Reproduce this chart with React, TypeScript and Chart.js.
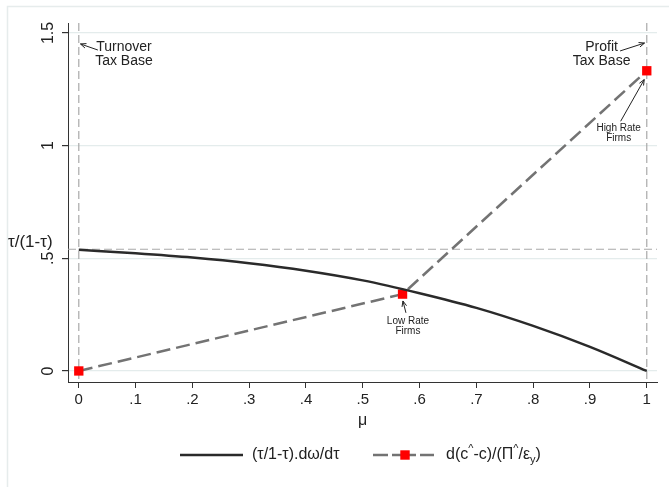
import React, { useEffect, useRef } from 'react';
import { Chart, registerables } from 'chart.js';

Chart.register(...registerables);

// ---- data ----
const muGrid = [0, 0.1, 0.2, 0.3, 0.4, 0.5, 0.6, 0.7, 0.8, 0.9, 1];
const curveValues = [0.538, 0.522, 0.503, 0.478, 0.445, 0.402, 0.345, 0.28, 0.2, 0.107, 0];
const firmMu = [0, 0.57, 1];
const firmValues = [0, 0.341, 1.332];
const xTickValues = [0, 0.1, 0.2, 0.3, 0.4, 0.5, 0.6, 0.7, 0.8, 0.9, 1];
const xTickLabels = ['0', '.1', '.2', '.3', '.4', '.5', '.6', '.7', '.8', '.9', '1'];
const yTickValues = [0, 0.5, 1, 1.5];
const yTickLabels = ['0', '.5', '1', '1.5'];
const refLineY = 0.54;
const refLinesX = [0, 1];
const xTitle = 'μ';
const yTitle = 'τ/(1-τ)';
const legend1 = '(τ/1-τ).dω/dτ';

const FONT = '"Liberation Sans", Arial, Helvetica, sans-serif';

type Ann = { lines: string[]; x: number; y: number; size: number; from: [number, number]; to: [number, number] };
const annotations: Ann[] = [
  { lines: ['Turnover', 'Tax Base'], x: 0.0795, y: 1.437, size: 14, from: [0.0336, 1.424], to: [0.003, 1.451] },
  { lines: ['Profit', 'Tax Base'], x: 0.9205, y: 1.437, size: 14, from: [0.953, 1.42], to: [0.996, 1.455] },
  { lines: ['High Rate', 'Firms'], x: 0.9505, y: 1.079, size: 10, from: [0.954, 1.108], to: [0.9955, 1.293] },
  { lines: ['Low Rate', 'Firms'], x: 0.5795, y: 0.2225, size: 10, from: [0.576, 0.258], to: [0.5707, 0.3105] },
];

function arrow(ctx: CanvasRenderingContext2D, x1: number, y1: number, x2: number, y2: number) {
  const ang = Math.atan2(y2 - y1, x2 - x1);
  const h = 6;
  ctx.beginPath();
  ctx.moveTo(x1, y1);
  ctx.lineTo(x2, y2);
  ctx.stroke();
  ctx.beginPath();
  ctx.moveTo(x2, y2);
  ctx.lineTo(x2 - h * Math.cos(ang - 0.4), y2 - h * Math.sin(ang - 0.4));
  ctx.moveTo(x2, y2);
  ctx.lineTo(x2 - h * Math.cos(ang + 0.4), y2 - h * Math.sin(ang + 0.4));
  ctx.stroke();
}

const decorPlugin = {
  id: 'decor',
  beforeDraw(chart: any) {
    const ctx = chart.ctx as CanvasRenderingContext2D;
    ctx.save();
    ctx.fillStyle = '#ffffff';
    ctx.fillRect(0, 0, chart.width, chart.height);
    ctx.strokeStyle = '#e6ecec';
    ctx.lineWidth = 1.5;
    ctx.beginPath();
    ctx.moveTo(7.5, chart.height);
    ctx.lineTo(7.5, 6.5);
    ctx.lineTo(chart.width, 6.5);
    ctx.stroke();
    ctx.restore();
  },
  beforeDatasetsDraw(chart: any) {
    const ctx = chart.ctx as CanvasRenderingContext2D;
    const { left, right, top, bottom } = chart.chartArea;
    const xs = chart.scales.x;
    const ys = chart.scales.y;
    ctx.save();
    ctx.strokeStyle = '#a9a9a9';
    ctx.lineWidth = 1.2;
    ctx.setLineDash([8, 4]);
    const yy = ys.getPixelForValue(refLineY);
    ctx.beginPath();
    ctx.moveTo(left, yy);
    ctx.lineTo(right, yy);
    ctx.stroke();
    refLinesX.forEach((v) => {
      const xx = xs.getPixelForValue(v);
      ctx.beginPath();
      ctx.moveTo(xx, top);
      ctx.lineTo(xx, bottom);
      ctx.stroke();
    });
    ctx.restore();
  },
  afterDraw(chart: any) {
    const ctx = chart.ctx as CanvasRenderingContext2D;
    const xs = chart.scales.x;
    const ys = chart.scales.y;
    const { left, right } = chart.chartArea;
    ctx.save();
    ctx.fillStyle = '#222';
    // y tick labels (rotated)
    ctx.font = `16px ${FONT}`;
    ctx.textAlign = 'center';
    ctx.textBaseline = 'alphabetic';
    yTickValues.forEach((v, i) => {
      const py = ys.getPixelForValue(v);
      ctx.save();
      ctx.translate(53, py);
      ctx.rotate(-Math.PI / 2);
      ctx.fillText(yTickLabels[i], 0, 0);
      ctx.restore();
    });
    // y title
    ctx.font = `17px ${FONT}`;
    ctx.textAlign = 'left';
    ctx.textBaseline = 'middle';
    ctx.fillText(yTitle, 8, 242);
    // x title
    ctx.font = `16px ${FONT}`;
    ctx.textAlign = 'center';
    ctx.fillText(xTitle, (left + right) / 2, 421);

    // annotations
    ctx.strokeStyle = '#222';
    ctx.lineWidth = 1;
    annotations.forEach((a) => {
      ctx.font = `${a.size}px ${FONT}`;
      ctx.textAlign = 'center';
      ctx.textBaseline = 'middle';
      const cx = xs.getPixelForValue(a.x);
      const cy = ys.getPixelForValue(a.y);
      a.lines.forEach((t, k) => ctx.fillText(t, cx, cy + k * a.size));
      arrow(
        ctx,
        xs.getPixelForValue(a.from[0]),
        ys.getPixelForValue(a.from[1]),
        xs.getPixelForValue(a.to[0]),
        ys.getPixelForValue(a.to[1])
      );
    });

    // legend
    const ly = 455;
    ctx.lineWidth = 2.5;
    ctx.strokeStyle = '#2a2a2a';
    ctx.beginPath();
    ctx.moveTo(180, ly);
    ctx.lineTo(243, ly);
    ctx.stroke();
    ctx.font = `16px ${FONT}`;
    ctx.textAlign = 'left';
    ctx.textBaseline = 'middle';
    ctx.fillStyle = '#222';
    ctx.fillText(legend1, 252, ly);

    ctx.strokeStyle = '#737373';
    const segs = [[373, 388], [392, 416], [420, 434]];
    segs.forEach(([a, b]) => {
      ctx.beginPath();
      ctx.moveTo(a, ly);
      ctx.lineTo(b, ly);
      ctx.stroke();
    });
    ctx.fillStyle = '#ff0000';
    ctx.fillRect(405 - 4.7, ly - 4.7, 9.4, 9.4);

    // second legend label with super/subscripts
    ctx.fillStyle = '#222';
    const parts: [string, number, number][] = [
      ['d(c', 16, 0],
      ['^', 11, -6],
      ['-c)/(Π', 16, 0],
      ['^', 11, -6],
      ['/ε', 16, 0],
      ['y', 11, 5],
      [')', 16, 0],
    ];
    let tx = 446;
    parts.forEach(([t, s, dy]) => {
      ctx.font = `${s}px ${FONT}`;
      ctx.fillText(t, tx, ly + dy);
      tx += ctx.measureText(t).width;
    });
    ctx.restore();
  },
};

export default function App() {
  const ref = useRef<HTMLCanvasElement | null>(null);
  useEffect(() => {
    if (!ref.current) return;
    const chart = new Chart(ref.current, {
      type: 'line',
      data: {
        datasets: [
          {
            label: legend1,
            data: muGrid.map((m, i) => ({ x: m, y: curveValues[i] })),
            borderColor: '#2a2a2a',
            borderWidth: 2.5,
            pointRadius: 0,
            cubicInterpolationMode: 'monotone',
            fill: false,
          },
          {
            label: 'd(c^-c)/(Π^/ε_y)',
            data: firmMu.map((m, i) => ({ x: m, y: firmValues[i] })),
            borderColor: '#737373',
            borderWidth: 2.5,
            borderDash: [14, 6],
            pointStyle: 'rect',
            pointRadius: 6.6,
            pointBackgroundColor: '#ff0000',
            pointBorderColor: '#ff0000',
            pointBorderWidth: 0,
            fill: false,
            tension: 0,
          },
        ],
      },
      options: {
        responsive: false,
        animation: false,
        devicePixelRatio: 1,
        layout: { padding: { left: 0, top: 23, right: 12, bottom: 0 } },
        plugins: { legend: { display: false }, tooltip: { enabled: false } },
        scales: {
          x: {
            type: 'linear',
            min: -0.019,
            max: 1.018,
            afterBuildTicks: (s: any) => {
              s.ticks = xTickValues.map((v) => ({ value: v }));
            },
            afterFit: (s: any) => {
              s.height = 487 - 382;
            },
            ticks: {
              autoSkip: false,
              maxRotation: 0,
              minRotation: 0,
              padding: 3,
              color: '#222',
              font: { size: 15, family: FONT },
              callback: (_v: any, i: number) => xTickLabels[i],
            },
            grid: { drawOnChartArea: false, drawTicks: true, tickLength: 6, color: '#333', lineWidth: 1 },
            border: { display: true, color: '#333', width: 1 },
          },
          y: {
            type: 'linear',
            min: -0.049,
            max: 1.544,
            afterBuildTicks: (s: any) => {
              s.ticks = yTickValues.map((v) => ({ value: v }));
            },
            afterFit: (s: any) => {
              s.width = 68;
            },
            ticks: { display: false },
            grid: { color: '#e4ecec', tickColor: '#333', tickLength: 6, lineWidth: 1.2, drawTicks: true },
            border: { display: true, color: '#333', width: 1 },
          },
        },
      } as any,
      plugins: [decorPlugin],
    });
    return () => chart.destroy();
  }, []);
  return (
    <div style={{ position: 'absolute', left: 0, top: 0, width: 669, height: 487, background: '#fff' }}>
      <canvas ref={ref} width={669} height={487} style={{ display: 'block' }} />
    </div>
  );
}
